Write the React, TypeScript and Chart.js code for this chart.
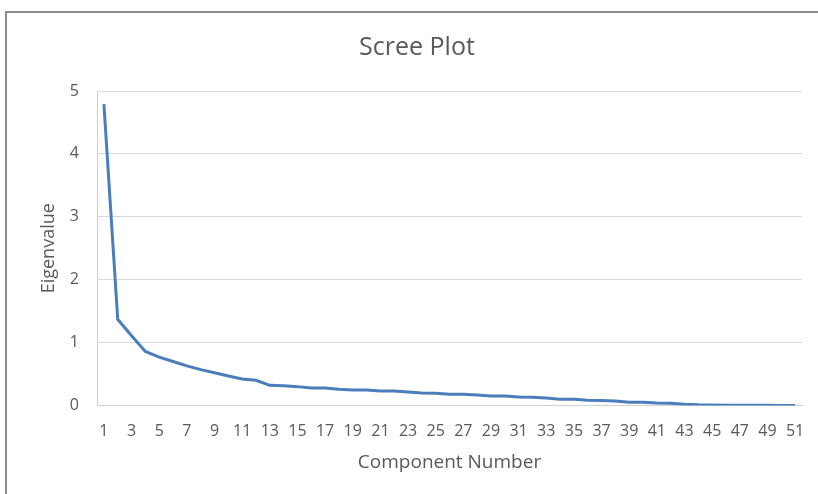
import React, { useEffect, useRef } from "react";
import { Chart, registerables } from "chart.js";

Chart.register(...registerables);

const components: string[] = Array.from({ length: 51 }, (_, i) => String(i + 1));

const eigenvalues: number[] = [
  4.79, 1.37, 1.11, 0.86, 0.77, 0.7, 0.63, 0.57, 0.52, 0.47,
  0.42, 0.4, 0.32, 0.315, 0.3, 0.28, 0.28, 0.26, 0.245, 0.245,
  0.23, 0.23, 0.215, 0.2, 0.195, 0.18, 0.18, 0.165, 0.15, 0.15,
  0.135, 0.13, 0.12, 0.1, 0.1, 0.085, 0.08, 0.07, 0.05, 0.05,
  0.04, 0.035, 0.02, 0.01, 0.008, 0.005, 0.003, 0.003, 0.002, 0.001,
  0.0,
];

const yTicks: number[] = [0, 1, 2, 3, 4, 5];

const FONT = "'Open Sans', 'Noto Sans', sans-serif";
const TEXT = "#595959";

export default function App() {
  const ref = useRef<HTMLCanvasElement | null>(null);

  useEffect(() => {
    document.body.style.margin = "0";
    const canvas = ref.current;
    if (!canvas) return;
    const chart = new Chart(canvas, {
      type: "line",
      data: {
        labels: components,
        datasets: [
          {
            label: "Eigenvalue",
            data: eigenvalues,
            borderColor: "#4a7ebb",
            backgroundColor: "#4a7ebb",
            borderWidth: 3,
            pointRadius: 0,
            pointHoverRadius: 0,
            tension: 0,
            fill: false,
          },
        ],
      },
      options: {
        animation: false,
        responsive: false,
        maintainAspectRatio: false,
        layout: { padding: { left: 0, right: 0, top: 0, bottom: 0 } },
        plugins: {
          legend: { display: false },
          tooltip: { enabled: false },
          title: {
            display: true,
            text: "Scree Plot",
            color: TEXT,
            font: { family: FONT, size: 25, weight: "normal" },
            padding: { top: 33, bottom: 28 },
          },
        },
        scales: {
          x: {
            type: "category",
            offset: true,
            grid: { display: false, drawTicks: false },
            border: { display: true, color: "#d0d0d0", width: 1 },
            ticks: {
              autoSkip: false,
              maxRotation: 0,
              minRotation: 0,
              padding: 16,
              color: TEXT,
              font: { family: FONT, size: 16 },
              callback: (_v: any, i: number) => (i % 2 === 0 ? components[i] : ""),
            },
            title: {
              display: true,
              text: "Component Number",
              color: TEXT,
              font: { family: FONT, size: 19 },
              padding: { top: 0, bottom: 20 },
            },
            afterFit: (s: any) => {
              s.height = 88.5;
            },
          },
          y: {
            min: 0,
            max: 5,
            afterBuildTicks: (s: any) => {
              s.ticks = yTicks.map((v) => ({ value: v }));
            },
            grid: { color: "#d9d9d9", lineWidth: 1, drawTicks: false },
            border: { display: true, color: "#d0d0d0", width: 1 },
            ticks: {
              padding: 18,
              color: TEXT,
              font: { family: FONT, size: 16 },
            },
            title: {
              display: true,
              text: "Eigenvalue",
              color: TEXT,
              font: { family: FONT, size: 18 },
              padding: { top: 38, bottom: 0 },
            },
            afterFit: (s: any) => {
              s.width = 97;
            },
          },
          y2: {
            position: "right",
            display: true,
            grid: { display: false, drawTicks: false },
            border: { display: false },
            ticks: { display: false },
            afterFit: (s: any) => {
              s.width = 32;
            },
          },
        },
      },
    });
    return () => chart.destroy();
  }, []);

  return (
    <div
      style={{
        position: "absolute",
        left: 0,
        top: 0,
        width: 818,
        height: 494,
        overflow: "hidden",
        background: "#ffffff",
      }}
    >
      <div
        style={{
          position: "absolute",
          left: 5,
          top: 11,
          width: 840,
          height: 520,
          border: "2px solid #8c8c8c",
          boxSizing: "border-box",
        }}
      />
      <canvas
        ref={ref}
        width={834}
        height={494}
        style={{ position: "absolute", left: 0, top: 0, width: 834, height: 494 }}
      />
    </div>
  );
}
